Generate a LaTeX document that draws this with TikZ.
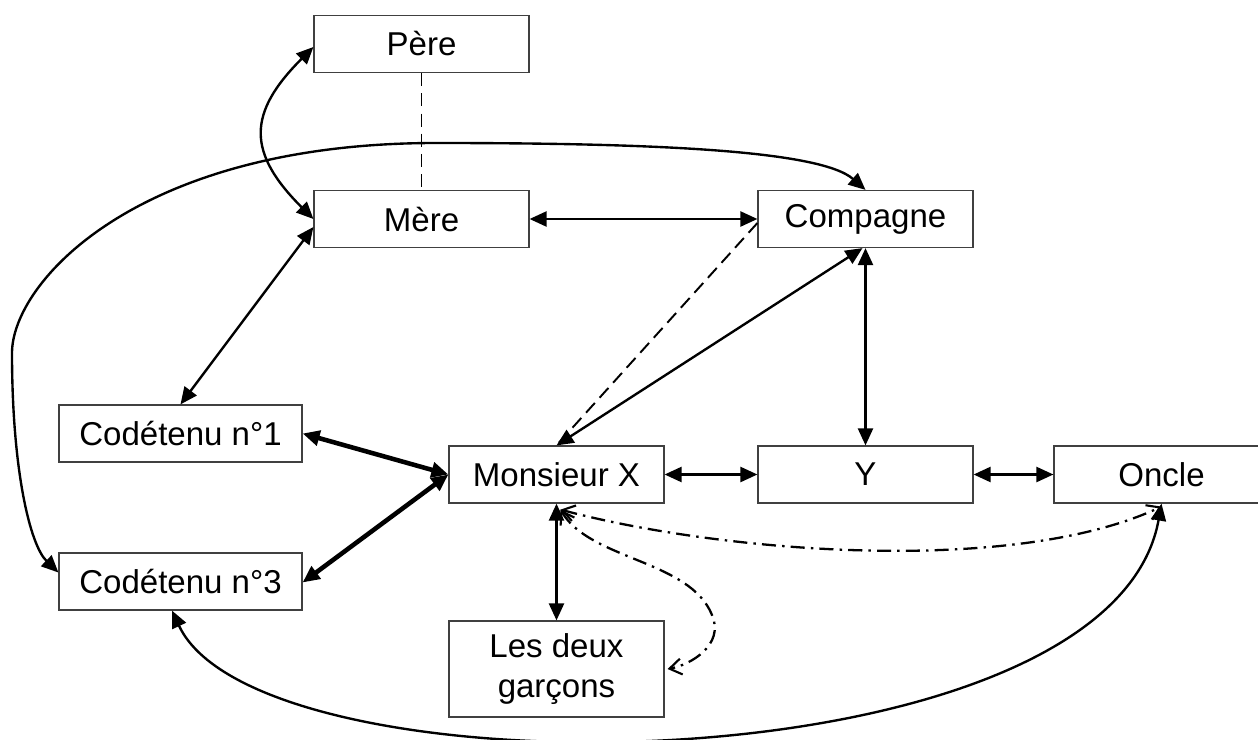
\documentclass[tikz,border=0pt]{standalone}
\usepackage{fontspec}
\setmainfont{Liberation Sans}
\usetikzlibrary{arrows.meta}
\tikzset{
  boite/.style={draw=black!75, line width=0.7pt, minimum width=4.3cm, minimum height=1.14cm,
    inner sep=0pt, align=center, font=\fontsize{18.8}{22.7}\selectfont},
  tete/.tip={Triangle[length=0.34cm,width=0.3cm]},
  ouvert/.tip={Straight Barb[length=0.24cm,width=0.32cm,line width=1.2pt]},
  lien/.style={line width=1.35pt, tete-tete},
  fort/.style={line width=2.6pt, tete-tete},
  tiret/.style={line width=1.1pt, dash pattern=on 7.5pt off 4pt},
  pointtiret/.style={line width=1.3pt, dash pattern=on 8pt off 3.5pt on 1.4pt off 3.5pt, ouvert-ouvert}
}
\begin{document}
\begin{tikzpicture}[x=0.02cm,y=0.02cm]
  \useasboundingbox (0,0) rectangle (1258,-740);
  \node[boite] (pere) at (421.5,-44) {Père};
  \node[boite] (mere) at (421.5,-219) {Mère};
  \node[boite] (compagne) at (865.5,-219) {Compagne};
  \node[boite, minimum width=4.86cm] (codet1) at (180.5,-433.5) {Codétenu n°1};
  \node[boite] (monsieur) at (556.5,-474.5) {Monsieur X};
  \node[boite] (persy) at (865.5,-474.5) {Y};
  \node[boite] (oncle) at (1161.5,-474.5) {Oncle};
  \node[boite, minimum width=4.86cm] (codet3) at (180.5,-581.5) {Codétenu n°3};
  \node[boite, minimum height=1.92cm] (garcons) at (556.5,-669) {Les deux\\garçons};
  % famille
  \draw[lien] ([yshift=-0.06cm]pere.west) to[out=225,in=135,looseness=1.4] (mere.west);
  \draw[tiret] (pere.south) -- (mere.north);
  \draw[lien] (mere) -- (compagne);
  \draw[lien] ([yshift=-0.16cm]mere.west) -- (codet1.north);
  \draw[lien] ([yshift=0.18cm]codet3.west) .. controls (30,-545) and (12,-470) .. (12,-353)
    .. controls (12,-283) and (136,-143) .. (436,-143)
    .. controls (650,-143) and (820,-150) .. (compagne.north);
  \draw[tiret] ([yshift=-0.08cm]compagne.west) -- (monsieur.north);
  \draw[lien] ([xshift=-0.06cm]compagne.south) -- (monsieur.north);
  \draw[lien] (compagne.south) -- (persy.north);
  \draw[lien] (monsieur) -- (persy);
  \draw[lien] (persy) -- (oncle);
  % codetenus
  \draw[fort] (codet1.east) -- (monsieur.west);
  \draw[fort] ([yshift=-0.02cm]codet3.east) -- (monsieur.west);
  \draw[lien] (monsieur.south) -- (garcons.north);
  \draw[pointtiret] ([xshift=0.08cm,yshift=-0.12cm]monsieur.south) to[out=-15,in=205,looseness=0.7] ([yshift=-0.06cm]oncle.south);
  \draw[pointtiret] ([xshift=0.08cm,yshift=-0.12cm]monsieur.south) .. controls (590,-560) and (690,-560) .. (712,-615)
    .. controls (725,-645) and (690,-665) .. ([xshift=0.06cm]garcons.east);
  \draw[lien] (oncle.south) .. controls (1110,-790) and (260,-800) .. ([xshift=-0.17cm]codet3.south);
\end{tikzpicture}
\end{document}
